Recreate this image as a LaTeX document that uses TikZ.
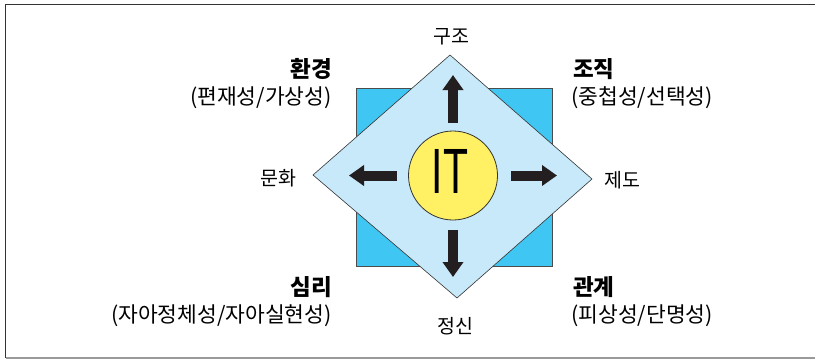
\documentclass[tikz,border=0pt]{standalone}
\usepackage{fontspec}
\setmainfont{Noto Sans CJK KR}
\newfontfamily\itfont{Liberation Sans}
\usetikzlibrary{arrows.meta}
\definecolor{sqblue}{HTML}{3FC6F2}
\definecolor{dmblue}{HTML}{C8E9F9}
\definecolor{ityellow}{HTML}{FFF163}
\definecolor{framedark}{HTML}{333333}
\definecolor{framegray}{HTML}{9A9A9A}
\definecolor{arrowblack}{HTML}{231F20}
\begin{document}
\begin{tikzpicture}[x=1pt,y=-1pt,
  lab/.style={font=\fontsize{19.5}{22}\selectfont, inner sep=0pt},
  head/.style={font=\fontsize{22.5}{26}\selectfont\bfseries, inner sep=0pt},
  sub/.style={font=\fontsize{21.5}{24}\selectfont, inner sep=0pt},
  bigarrow/.style={line width=10pt, draw=arrowblack, -{Triangle[width=20pt,length=15pt]}}]
\useasboundingbox (0,0) rectangle (815,359);
% frame
\draw[framedark, line width=1.5pt] (815,4.5) -- (5.5,4.5) -- (5.5,358);
\draw[framegray, line width=1.2pt] (5.5,358) -- (815,358);
% blue square
\node[draw=black!70, fill=sqblue, minimum width=196pt, minimum height=178pt,
      inner sep=0pt, line width=0.6pt] (sq) at (454,177) {};
% diamond
\coordinate (dN) at (450,55);
\coordinate (dE) at (592,179);
\coordinate (dS) at (457,298);
\coordinate (dW) at (313,175);
\draw[fill=dmblue, draw=black!80, line width=0.6pt] (dN) -- (dE) -- (dS) -- (dW) -- cycle;
% circle
\node[circle, draw=black!80, fill=ityellow, minimum size=89pt, inner sep=0pt,
      line width=0.8pt] (it) at (453,175.5) {};
\node[inner sep=0pt] (ittext) at (450,171) {\itfont\fontsize{64}{64}\selectfont\scalebox{0.64}[1]{IT}};
% arrows
\coordinate (tN) at (453,75);
\coordinate (tW) at (349,175.5);
\coordinate (tE) at (557,175.5);
\coordinate (tS) at (453,277);
\draw[bigarrow, shorten <=8pt] (it.north) -- (tN);
\draw[bigarrow, shorten <=11.5pt] (it.west) -- (tW);
\draw[bigarrow, shorten <=13.5pt] (it.east) -- (tE);
\draw[bigarrow, shorten <=10pt] (it.south) -- (tS);
% labels
\node[lab] (l1) at (451,37) {구조};
\node[lab] (l2) at (278,178) {문화};
\node[lab] (l3) at (622,180) {제도};
\node[lab] (l4) at (455,326) {정신};
\node[head, anchor=east] (h1) at (332,69) {환경};
\node[sub, anchor=east] (s1) at (332,98) {(편재성/가상성)};
\node[head, anchor=west] (h2) at (573,69) {조직};
\node[sub, anchor=west] (s2) at (571,98) {(중첩성/선택성)};
\node[head, anchor=east] (h3) at (332,287) {심리};
\node[sub, anchor=east] (s3) at (332,316) {(자아정체성/자아실현성)};
\node[head, anchor=west] (h4) at (573,287) {관계};
\node[sub, anchor=west] (s4) at (571,316) {(피상성/단명성)};
\end{tikzpicture}
\end{document}
